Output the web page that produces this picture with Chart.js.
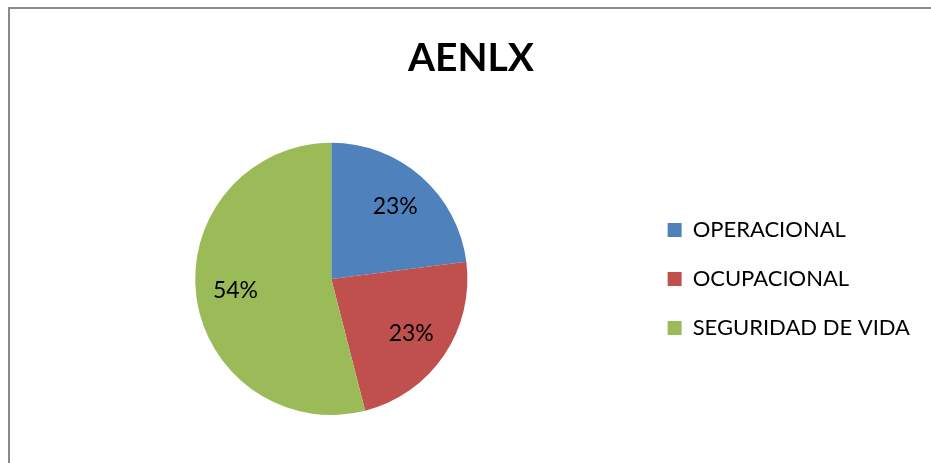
<!DOCTYPE html>
<html>
<head>
<meta charset="utf-8">
<script src="https://cdn.jsdelivr.net/npm/chart.js@4.4.0/dist/chart.umd.min.js"></script>
<style>
  html, body { margin: 0; padding: 0; background: #fff; overflow: hidden; }
  #frame {
    position: absolute; left: 8px; top: 7px; width: 1000px; height: 600px;
    border-left: 2px solid #898989; border-top: 2px solid #898989;
  }
  #wrap { position: absolute; left: 0; top: 0; width: 931px; height: 463px; }
</style>
</head>
<body>
<div id="frame"></div>
<div id="wrap"><canvas id="pieChart"></canvas></div>
<script>
// Datos del gráfico
const chartTitle = 'AENLX';
const categories = ['OPERACIONAL', 'OCUPACIONAL', 'SEGURIDAD DE VIDA'];
const percentages = [23, 23, 54];
const sliceColors = ['#4F81BD', '#C0504D', '#9BBB59'];

// Etiqueta de porcentaje dentro de cada sector
const pctLabels = {
    id: 'pctLabels',
    afterDatasetsDraw(chart) {
        const ctx = chart.ctx;
        const meta = chart.getDatasetMeta(0);
        ctx.save();
        ctx.font = '23px Lato';
        ctx.fillStyle = '#000';
        ctx.textAlign = 'center';
        ctx.textBaseline = 'middle';
        meta.data.forEach((arc, i) => {
            const mid = (arc.startAngle + arc.endAngle) / 2;
            const r = arc.outerRadius * 0.71;
            const x = arc.x + Math.cos(mid) * r;
            const y = arc.y + Math.sin(mid) * r;
            ctx.fillText(percentages[i] + '%', x, y);
        });
        ctx.restore();
    }
};

const ctx = document.getElementById('pieChart').getContext('2d');
const pieChart = new Chart(ctx, {
    type: 'pie',
    data: {
        labels: categories,
        datasets: [{
            data: percentages,
            backgroundColor: sliceColors,
            borderWidth: 0
        }]
    },
    options: {
        responsive: true,
        maintainAspectRatio: false,
        animation: false,
        layout: {
            padding: { left: 22, right: 11, top: 0, bottom: 48 }
        },
        plugins: {
            title: {
                display: true,
                text: chartTitle,
                color: '#000',
                font: { family: 'Lato', size: 39, weight: 'bold', lineHeight: 1.2 },
                padding: { top: 35, bottom: 61 }
            },
            legend: {
                position: 'right',
                fullSize: false,
                labels: {
                    color: '#000',
                    font: { family: 'Lato', size: 22 },
                    boxWidth: 14,
                    boxHeight: 14,
                    padding: 27
                }
            },
            tooltip: { enabled: false }
        }
    },
    plugins: [pctLabels]
});
</script>
</body>
</html>
